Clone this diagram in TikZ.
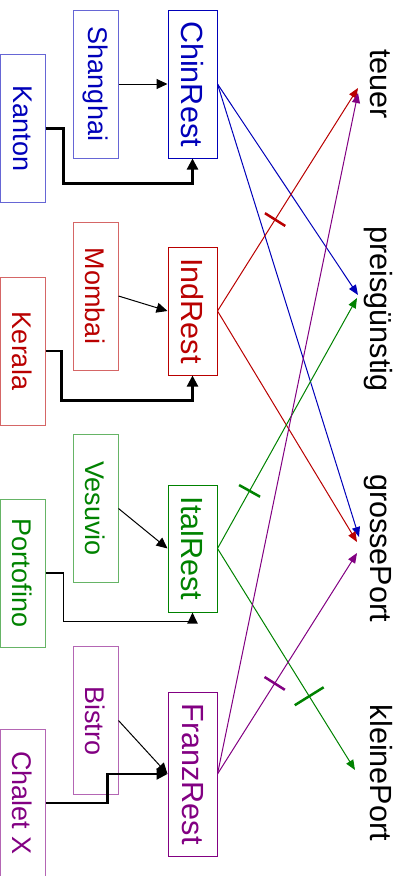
\documentclass[tikz,border=0pt]{standalone}
\usepackage{fontspec}
\setmainfont{Liberation Sans}
\usetikzlibrary{arrows.meta,calc,decorations.markings}
\definecolor{cblue}{RGB}{0,0,185}
\definecolor{cred}{RGB}{185,0,0}
\definecolor{cgreen}{RGB}{0,130,0}
\definecolor{cpurple}{RGB}{130,0,130}
\begin{document}
\begin{tikzpicture}[x=1pt,y=-1pt,
  src/.style={draw=#1!60!white, text=#1, line width=1pt, rotate=-90,
    minimum width=148pt, minimum height=45pt, inner sep=0pt,
    font=\fontsize{27}{32}\selectfont},
  rst/.style={draw=#1, text=#1, line width=1pt, rotate=-90,
    minimum height=49pt, inner sep=0pt,
    font=\fontsize{30.6}{36}\selectfont},
  lbl/.style={rotate=-90, anchor=base, inner sep=0pt,
    font=\fontsize{30.6}{36}\selectfont},
  feed/.style={black, line width=1pt, -{Triangle[length=11pt,width=10pt]}},
  feedthick/.style={black, line width=2.2pt, -{Triangle[length=11pt,width=11pt]}},
  link/.style={color=#1, line width=1pt, -{Triangle[length=10pt,width=8pt]}},
  tickmark/.style 2 args={postaction={decorate,decoration={markings,
    mark=at position #1 with {\draw[line width=2.5pt,-] (0pt,-#2) -- (0pt,#2);}}}}
]
\useasboundingbox (0,0) rectangle (402,876);

% source nodes
\node[src=cblue] (sh) at (95.5,84) {Shanghai};
\node[src=cblue] (ka) at (22.5,128.5) {Kanton};
\node[src=cred] (mb) at (95.5,296) {Mombai};
\node[src=cred] (ke) at (22.5,351) {Kerala};
\node[src=cgreen] (ve) at (95.5,508.5) {Vesuvio};
\node[src=cgreen] (po) at (22.5,573) {Portofino};
\node[src=cpurple] (bi) at (95.5,720.5) {Bistro};
\node[src=cpurple] (ch) at (22.5,803) {Chalet X};

% restaurant nodes
\node[rst=cblue, minimum width=148pt] (cr) at (192.5,84) {ChinRest};
\node[rst=cred, minimum width=128pt] (ir) at (192.5,311) {IndRest};
\node[rst=cgreen, minimum width=127pt] (it) at (192.5,548.5) {ItalRest};
\node[rst=cpurple, minimum width=164pt] (fr) at (192.5,774) {FranzRest};

% labels
\node[lbl] (te) at (370,84) {teuer};
\node[lbl] (pg) at (370,309) {preisgünstig};
\node[lbl] (gp) at (370,548) {grossePort};
\node[lbl] (kp) at (370,773) {kleinePort};

% feeds
\draw[feed] (sh.north) -- (cr.south);
\draw[feedthick] (ka.north) -- ++(18,0) |- ($(cr.east)+(0,25)$) -- (cr.east);
\draw[feed] (mb.north) -- (ir.south);
\draw[feedthick] (ke.north) -- ++(16,0) |- ($(ir.east)+(0,25)$) -- (ir.east);
\draw[feed] (ve.north) -- (it.south);
\draw[feed, line width=1.8pt] (po.north) -- ++(18,0) |- ($(it.east)+(0,9)$) -- (it.east);
\draw[feed] (bi.north) -- (fr.south);
\draw[feedthick] (ch.north) -- ++(62,0) |- (fr.south);

% links
\draw[link=cblue] (cr.north) -- ($(pg.base)+(-12,-14)$);
\draw[link=cblue] (cr.north) -- ($(gp.base)+(-11,-11)$);
\draw[link=cred, tickmark={0.41}{12pt}] (ir.north) -- ($(te.base)+(-12,4)$);
\draw[link=cred] (ir.north) -- ($(gp.base)+(-13,-6)$);
\draw[link=cgreen, tickmark={0.23}{12pt}] (it.north) -- ($(pg.base)+(-13,-11)$);
\draw[link=cgreen, tickmark={0.667}{17pt}] (it.north) -- ($(kp.base)+(-15,-3)$);
\draw[link=cpurple] (fr.north) -- ($(te.base)+(-12,9)$);
\draw[link=cpurple, tickmark={0.41}{12pt}] (fr.north) -- ($(gp.base)+(-13,5)$);
\end{tikzpicture}
\end{document}
